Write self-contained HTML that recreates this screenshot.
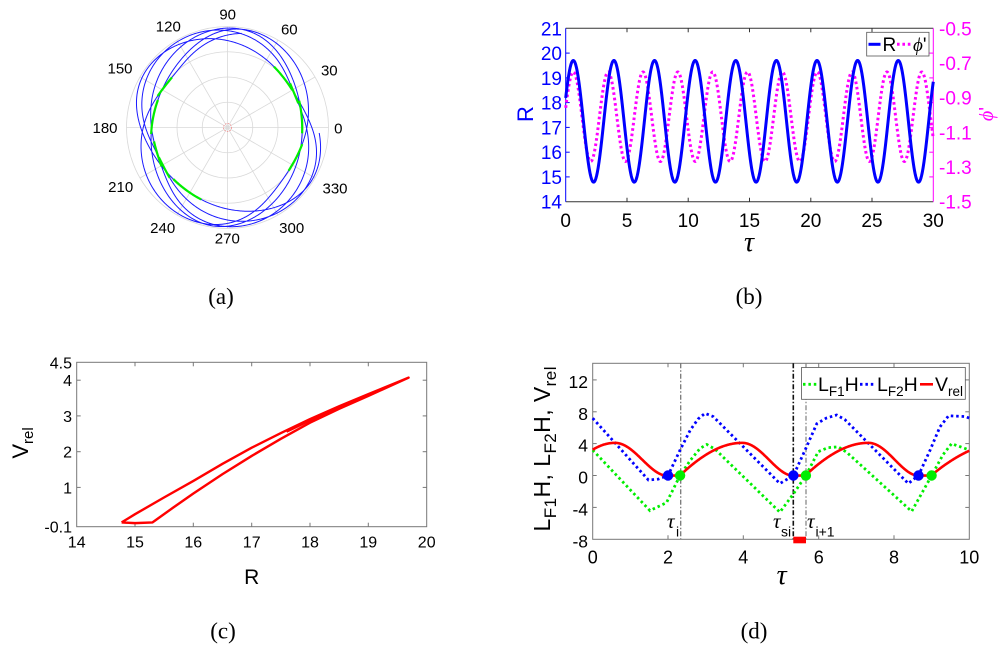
<!DOCTYPE html>
<html><head><meta charset="utf-8">
<style>
html,body{margin:0;padding:0;background:#fff;}
svg{display:block;}
text{font-family:"Liberation Sans",Arial,sans-serif;}
.serif{font-family:"Liberation Serif","Times New Roman",serif;}
</style></head>
<body>
<svg id="s" width="1000" height="650" viewBox="0 0 1000 650" xmlns="http://www.w3.org/2000/svg">
<rect width="1000" height="650" fill="#fff"/>

<!-- ============ (a) polar ============ -->
<g stroke="#d9d9d9" stroke-width="0.8" fill="none">
  <circle cx="227.5" cy="127.5" r="25.25"/>
  <circle cx="227.5" cy="127.5" r="50.5"/>
  <circle cx="227.5" cy="127.5" r="75.75"/>
  <circle cx="227.5" cy="127.5" r="101"/>
  <line x1="126.5" y1="127.5" x2="328.5" y2="127.5"/>
  <line x1="140.03" y1="178" x2="314.97" y2="77"/>
  <line x1="177" y1="214.97" x2="278" y2="40.03"/>
  <line x1="227.5" y1="26.5" x2="227.5" y2="228.5"/>
  <line x1="177" y1="40.03" x2="278" y2="214.97"/>
  <line x1="140.03" y1="77" x2="314.97" y2="178"/>
</g>
<circle cx="227.5" cy="127.5" r="4" fill="none" stroke="#f08a8a" stroke-width="0.8" stroke-dasharray="1.5 1.2"/>
<path id="polBlue" fill="none" stroke="#1a1aff" stroke-width="1"/>
<g id="polGreen" fill="none" stroke="#00ee00" stroke-width="2.2"></g>
<g font-size="15" fill="#000" text-anchor="middle">
  <text x="227.7" y="19.4">90</text>
  <text x="289.3" y="34.7">60</text>
  <text x="329.3" y="75.4">30</text>
  <text x="338.3" y="133.7">0</text>
  <text x="335" y="193.7">330</text>
  <text x="291.7" y="233">300</text>
  <text x="227.3" y="243.7">270</text>
  <text x="162.7" y="233">240</text>
  <text x="120.7" y="192">210</text>
  <text x="105" y="133">180</text>
  <text x="120" y="73.7">150</text>
  <text x="168.3" y="31.4">120</text>
</g>
<text class="serif" x="221" y="304" font-size="23" text-anchor="middle">(a)</text>

<!-- ============ (b) ============ -->
<g stroke-width="1" fill="none">
  <line x1="565.7" y1="28.3" x2="933.3" y2="28.3" stroke="#333"/>
  <line x1="565.7" y1="201.7" x2="933.3" y2="201.7" stroke="#333"/>
  <line x1="565.7" y1="28.3" x2="565.7" y2="201.7" stroke="#0000ff"/>
  <line x1="933.3" y1="28.3" x2="933.3" y2="201.7" stroke="#ff00ff"/>
</g>
<g stroke="#333" stroke-width="1">
  <line x1="627" y1="201.7" x2="627" y2="197.7"/><line x1="627" y1="28.3" x2="627" y2="32.3"/>
  <line x1="688.2" y1="201.7" x2="688.2" y2="197.7"/><line x1="688.2" y1="28.3" x2="688.2" y2="32.3"/>
  <line x1="749.5" y1="201.7" x2="749.5" y2="197.7"/><line x1="749.5" y1="28.3" x2="749.5" y2="32.3"/>
  <line x1="810.8" y1="201.7" x2="810.8" y2="197.7"/><line x1="810.8" y1="28.3" x2="810.8" y2="32.3"/>
  <line x1="872" y1="201.7" x2="872" y2="197.7"/><line x1="872" y1="28.3" x2="872" y2="32.3"/>
</g>
<g stroke="#0000ff" stroke-width="1">
  <line x1="565.7" y1="176.9" x2="569.7" y2="176.9"/>
  <line x1="565.7" y1="152.2" x2="569.7" y2="152.2"/>
  <line x1="565.7" y1="127.4" x2="569.7" y2="127.4"/>
  <line x1="565.7" y1="102.6" x2="569.7" y2="102.6"/>
  <line x1="565.7" y1="77.9" x2="569.7" y2="77.9"/>
  <line x1="565.7" y1="53.1" x2="569.7" y2="53.1"/>
</g>
<g stroke="#ff00ff" stroke-width="1">
  <line x1="933.3" y1="176.9" x2="929.3" y2="176.9"/>
  <line x1="933.3" y1="152.2" x2="929.3" y2="152.2"/>
  <line x1="933.3" y1="127.4" x2="929.3" y2="127.4"/>
  <line x1="933.3" y1="102.6" x2="929.3" y2="102.6"/>
  <line x1="933.3" y1="77.9" x2="929.3" y2="77.9"/>
  <line x1="933.3" y1="53.1" x2="929.3" y2="53.1"/>
</g>
<path id="bPhi" fill="none" stroke="#ff00ff" stroke-width="3" stroke-dasharray="2.6 2.8"/>
<path id="bR" fill="none" stroke="#0000ff" stroke-width="3"/>
<g font-size="19" fill="#0000ff" text-anchor="end">
  <text x="562" y="35.3">21</text>
  <text x="562" y="60.1">20</text>
  <text x="562" y="84.9">19</text>
  <text x="562" y="109.6">18</text>
  <text x="562" y="134.4">17</text>
  <text x="562" y="159.2">16</text>
  <text x="562" y="183.9">15</text>
  <text x="562" y="208.7">14</text>
</g>
<g font-size="19" fill="#ff00ff">
  <text x="939" y="35.3">-0.5</text>
  <text x="939" y="70">-0.7</text>
  <text x="939" y="104.7">-0.9</text>
  <text x="939" y="139.4">-1.1</text>
  <text x="939" y="174.1">-1.3</text>
  <text x="939" y="208.7">-1.5</text>
</g>
<g font-size="19" fill="#000" text-anchor="middle">
  <text x="565.7" y="227">0</text>
  <text x="627" y="227">5</text>
  <text x="688.2" y="227">10</text>
  <text x="749.5" y="227">15</text>
  <text x="810.8" y="227">20</text>
  <text x="872" y="227">25</text>
  <text x="933.3" y="227">30</text>
</g>
<text transform="translate(533,114) rotate(-90)" font-size="22" fill="#0000ff" text-anchor="middle">R</text>
<text transform="translate(993,114) rotate(-90)" font-size="20" fill="#ff00ff" text-anchor="middle"><tspan class="serif" font-style="italic">ϕ</tspan>'</text>
<text class="serif" x="749" y="251" font-size="28" font-style="italic" text-anchor="middle">τ</text>
<rect x="866.7" y="32.3" width="62.3" height="23.7" fill="#fff" stroke="#555" stroke-width="0.8"/>
<line x1="868.5" y1="44.3" x2="880.5" y2="44.3" stroke="#0000ff" stroke-width="3"/>
<text x="882.5" y="51" font-size="19" fill="#000">R</text>
<line x1="897" y1="44.3" x2="912" y2="44.3" stroke="#ff00ff" stroke-width="3" stroke-dasharray="2.6 2.8"/>
<text x="913" y="51" font-size="19" fill="#000"><tspan class="serif" font-style="italic">ϕ</tspan>'</text>
<text class="serif" x="749" y="304" font-size="23" text-anchor="middle">(b)</text>

<!-- ============ (c) ============ -->
<rect x="76.7" y="362.3" width="350" height="164.4" fill="none" stroke="#777" stroke-width="1"/>
<g stroke="#777" stroke-width="1">
  <line x1="135" y1="526.7" x2="135" y2="522.7"/><line x1="135" y1="362.3" x2="135" y2="366.3"/>
  <line x1="193.3" y1="526.7" x2="193.3" y2="522.7"/><line x1="193.3" y1="362.3" x2="193.3" y2="366.3"/>
  <line x1="251.7" y1="526.7" x2="251.7" y2="522.7"/><line x1="251.7" y1="362.3" x2="251.7" y2="366.3"/>
  <line x1="310" y1="526.7" x2="310" y2="522.7"/><line x1="310" y1="362.3" x2="310" y2="366.3"/>
  <line x1="368.3" y1="526.7" x2="368.3" y2="522.7"/><line x1="368.3" y1="362.3" x2="368.3" y2="366.3"/>
  <line x1="76.7" y1="380.2" x2="80.7" y2="380.2"/><line x1="426.7" y1="380.2" x2="422.7" y2="380.2"/>
  <line x1="76.7" y1="415.9" x2="80.7" y2="415.9"/><line x1="426.7" y1="415.9" x2="422.7" y2="415.9"/>
  <line x1="76.7" y1="451.7" x2="80.7" y2="451.7"/><line x1="426.7" y1="451.7" x2="422.7" y2="451.7"/>
  <line x1="76.7" y1="487.4" x2="80.7" y2="487.4"/><line x1="426.7" y1="487.4" x2="422.7" y2="487.4"/>
</g>
<path id="cLoop" fill="none" stroke="#ff0000" stroke-width="2.4" stroke-linejoin="round"/>
<path id="cLoop2" fill="none" stroke="#ff0000" stroke-width="1.6" stroke-linejoin="round"/>
<g font-size="16" fill="#000" text-anchor="end">
  <text x="72" y="368.5">4.5</text>
  <text x="72" y="386.2">4</text>
  <text x="72" y="421.9">3</text>
  <text x="72" y="457.7">2</text>
  <text x="72" y="493.4">1</text>
  <text x="72" y="532.5">-0.1</text>
</g>
<g font-size="16" fill="#000" text-anchor="middle">
  <text x="76.7" y="547.5">14</text>
  <text x="135" y="547.5">15</text>
  <text x="193.3" y="547.5">16</text>
  <text x="251.7" y="547.5">17</text>
  <text x="310" y="547.5">18</text>
  <text x="368.3" y="547.5">19</text>
  <text x="426.7" y="547.5">20</text>
</g>
<text x="251.7" y="584" font-size="21" text-anchor="middle">R</text>
<text transform="translate(28,443) rotate(-90)" font-size="22" text-anchor="middle">V<tspan font-size="15" dy="5">rel</tspan></text>
<text class="serif" x="223" y="638.5" font-size="23" text-anchor="middle">(c)</text>

<!-- ============ (d) ============ -->
<rect x="592.7" y="363.3" width="376.6" height="176" fill="none" stroke="#777" stroke-width="1"/>
<g stroke="#777" stroke-width="1">
  <line x1="668" y1="539.3" x2="668" y2="535.3"/><line x1="668" y1="363.3" x2="668" y2="367.3"/>
  <line x1="743.3" y1="539.3" x2="743.3" y2="535.3"/><line x1="743.3" y1="363.3" x2="743.3" y2="367.3"/>
  <line x1="818.7" y1="539.3" x2="818.7" y2="535.3"/><line x1="818.7" y1="363.3" x2="818.7" y2="367.3"/>
  <line x1="894" y1="539.3" x2="894" y2="535.3"/><line x1="894" y1="363.3" x2="894" y2="367.3"/>
  <line x1="592.7" y1="507.4" x2="596.7" y2="507.4"/><line x1="969.3" y1="507.4" x2="965.3" y2="507.4"/>
  <line x1="592.7" y1="475.5" x2="596.7" y2="475.5"/><line x1="969.3" y1="475.5" x2="965.3" y2="475.5"/>
  <line x1="592.7" y1="443.6" x2="596.7" y2="443.6"/><line x1="969.3" y1="443.6" x2="965.3" y2="443.6"/>
  <line x1="592.7" y1="411.8" x2="596.7" y2="411.8"/><line x1="969.3" y1="411.8" x2="965.3" y2="411.8"/>
  <line x1="592.7" y1="379.9" x2="596.7" y2="379.9"/><line x1="969.3" y1="379.9" x2="965.3" y2="379.9"/>
</g>
<g fill="none" stroke-width="1.3" stroke-dasharray="5 2 1.5 2">
  <line x1="680.7" y1="363.3" x2="680.7" y2="539.3" stroke="#777"/>
  <line x1="793.3" y1="363.3" x2="793.3" y2="539.3" stroke="#111" stroke-width="1.6"/>
  <line x1="806" y1="363.3" x2="806" y2="539.3" stroke="#888"/>
</g>
<path id="dGreen" fill="none" stroke="#00ee00" stroke-width="2.8" stroke-dasharray="2.5 2.9"/>
<path id="dBlue" fill="none" stroke="#0000ff" stroke-width="2.8" stroke-dasharray="2.5 2.9"/>
<path id="dRed" fill="none" stroke="#ff0000" stroke-width="2.6"/>
<g fill="#0000ff">
  <circle cx="668" cy="475.5" r="5.2"/>
  <circle cx="793.4" cy="475.5" r="5.2"/>
  <circle cx="918.5" cy="475.5" r="5.2"/>
</g>
<g fill="#00ee00">
  <circle cx="680.1" cy="475.5" r="5.2"/>
  <circle cx="805.9" cy="475.5" r="5.2"/>
  <circle cx="931.6" cy="475.5" r="5.2"/>
</g>
<rect x="793.3" y="536.7" width="12.7" height="6.6" fill="#ff0000"/>
<text class="serif" x="667" y="528" font-size="21" font-style="italic">τ</text>
<text x="676" y="536.5" font-size="14">i</text>
<text class="serif" x="773" y="528" font-size="21" font-style="italic">τ</text>
<text x="781" y="536.5" font-size="14">si</text>
<text class="serif" x="807" y="528" font-size="21" font-style="italic">τ</text>
<text x="815.5" y="536.5" font-size="14">i+1</text>
<g font-size="17.5" fill="#000" text-anchor="end">
  <text x="588" y="388">12</text>
  <text x="588" y="419.8">8</text>
  <text x="588" y="451.6">4</text>
  <text x="588" y="483.5">0</text>
  <text x="588" y="515.4">-4</text>
  <text x="588" y="547.3">-8</text>
</g>
<g font-size="18" fill="#000" text-anchor="middle">
  <text x="592.7" y="563.5">0</text>
  <text x="668" y="563.5">2</text>
  <text x="743.3" y="563.5">4</text>
  <text x="818.7" y="563.5">6</text>
  <text x="894" y="563.5">8</text>
  <text x="969.3" y="563.5">10</text>
</g>
<text class="serif" x="781.7" y="584" font-size="28" font-style="italic" text-anchor="middle">τ</text>
<text transform="translate(550,449) rotate(-90)" font-size="23" text-anchor="middle" textLength="165" lengthAdjust="spacing">L<tspan font-size="17" dy="6">F1</tspan><tspan dy="-6">H, L</tspan><tspan font-size="17" dy="6">F2</tspan><tspan dy="-6">H, V</tspan><tspan font-size="17" dy="6">rel</tspan></text>
<rect x="801.5" y="367.5" width="163.8" height="31.8" fill="#fff" stroke="#555" stroke-width="0.8"/>
<line x1="803" y1="384.3" x2="817" y2="384.3" stroke="#00ee00" stroke-width="2.8" stroke-dasharray="2.5 2.9"/>
<text x="818" y="391" font-size="19.5">L<tspan font-size="13.5" dy="5">F1</tspan><tspan dy="-5">H</tspan></text>
<line x1="860" y1="384.3" x2="875" y2="384.3" stroke="#0000ff" stroke-width="2.8" stroke-dasharray="2.5 2.9"/>
<text x="877" y="391" font-size="19.5">L<tspan font-size="13.5" dy="5">F2</tspan><tspan dy="-5">H</tspan></text>
<line x1="920" y1="384.3" x2="933" y2="384.3" stroke="#ff0000" stroke-width="2.6"/>
<text x="935" y="391" font-size="19.5">V<tspan font-size="13.5" dy="5">rel</tspan></text>
<text class="serif" x="754" y="638.5" font-size="23" text-anchor="middle">(d)</text>
</svg>

<script>
(function(){
function P(pts){var s='';for(var i=0;i<pts.length;i++){s+=(i?'L':'M')+pts[i][0].toFixed(2)+','+pts[i][1].toFixed(2);}return s;}
var PI=Math.PI;
var w1=2*PI/3.315, w2=2*PI/2.844;

// ---------- (a) polar ----------
var cx0=227.5, cy0=127.5, sc=5.05;
var s0=Math.sin(w2*(-0.62));
var blue=[], greens=[], cur=null;
for(var i=0;i<=3000;i++){
  var t=i*0.01;
  var R=17.245+2.455*Math.cos(w1*(t-0.62));
  var th=-0.06-1.005*t+0.1154*(Math.sin(w2*(t-0.62))-s0);
  var x=cx0+R*sc*Math.cos(th), y=cy0-R*sc*Math.sin(th);
  blue.push([x,y]);
  var ph=((t-0.62)/3.315)%1; if(ph<0) ph+=1;
  var dt=(ph-0.5)*3.315;
  if(dt>=-0.3 && dt<=0.08){ if(!cur){cur=[];greens.push(cur);} cur.push([x,y]); } else cur=null;
}
document.getElementById('polBlue').setAttribute('d',P(blue));
var g=document.getElementById('polGreen');
greens.forEach(function(seg){
  if(seg.length<2) return;
  var p=document.createElementNS('http://www.w3.org/2000/svg','path');
  p.setAttribute('d',P(seg)); g.appendChild(p);
});

// ---------- (b) ----------
function bx(t){return 565.7+t*12.253;}
function byL(r){return 201.7-(r-14)*24.771;}
function byR(p){return 201.7-(p+1.5)*173.4;}
var rp=[], pp=[];
for(var i=0;i<=1500;i++){
  var t=i*0.02;
  var R=17.245+2.455*Math.cos(w1*(t-0.62));
  rp.push([bx(t),byL(R)]);
  var ph=-1.01+0.258*Math.cos(w2*(t-0.62));
  pp.push([bx(t),byR(ph)]);
}
document.getElementById('bR').setAttribute('d',P(rp));
document.getElementById('bPhi').setAttribute('d',P(pp));

// ---------- (c) ----------
function cxf(r){return 76.7+(r-14)*58.333;}
function cyf(v){return 526.7-(v+0.1)*35.74;}
var loop=[[14.77,0.02],[15,0.25],[15.5,0.72],[16,1.18],[16.5,1.66],[17,2.11],[17.5,2.52],[18,2.91],[18.5,3.27],[19,3.61],[19.69,4.07],
          [19.35,3.82],[19,3.56],[18.5,3.2],[18,2.81],[17.5,2.36],[17,1.88],[16.5,1.37],[16,0.83],[15.65,0.43],[15.3,0.02],[15.0,0.0],[14.77,0.02]];
document.getElementById('cLoop').setAttribute('d',P(loop.map(function(q){return [cxf(q[0]),cyf(q[1])];})));
var loop2=[[17.6,2.55],[18,2.86],[18.5,3.23],[19,3.58],[19.6,4.0]];
document.getElementById('cLoop2').setAttribute('d',P(loop2.map(function(q){return [cxf(q[0]),cyf(q[1])];})));

// ---------- (d) ----------
function dx(t){return 592.7+t*37.66;}
function dy(v){return 539.3-(v+8)*7.97;}
var Pk=[-2.77,0.59,3.97,7.32,10.9], Z1=[-1.41,1.95,5.30,8.63], Z2=[-0.75,2.33,5.66,9.00];
function V(t){
  var k=0; while(k<3 && t>=Pk[k+1]) k++;
  if(t<=Z1[k]){var u=(t-Pk[k])/(Z1[k]-Pk[k]); return 4.1*Math.pow(Math.max(0,Math.cos(PI/2*u)),1.8);}
  if(t<Z2[k]) return 0;
  var u=(t-Z2[k])/(Pk[k+1]-Z2[k]); return 4.1*Math.pow(Math.max(0,Math.sin(PI/2*u)),0.9);
}
var red=[];
for(var i=0;i<=1000;i++){var t=i*0.01; red.push([dx(t),dy(V(t))]);}
document.getElementById('dRed').setAttribute('d',P(red));
var bl=[[0,7.2],[1.48,-0.56],[1.74,-0.45],[2.0,0],[2.32,3.2],[2.59,5.7],[2.8,7.1],[2.98,7.8],[3.2,7.4],[4.97,-1.0],[5.33,0],[5.64,3.2],[5.95,6.5],[6.2,7.2],[6.48,7.6],[6.7,7.0],[8.38,-1.0],[8.65,0],[8.96,3.2],[9.22,6.1],[9.45,7.5],[9.9,7.4],[10,7.2]];
var gr=[[0,3.2],[1.52,-4.4],[1.96,-3.4],[2.32,0],[2.59,1.9],[2.85,3.4],[3.03,3.9],[3.25,3.3],[4.97,-4.6],[5.33,-2.3],[5.66,0],[5.99,3.0],[6.25,3.5],[6.52,3.6],[6.75,2.9],[8.47,-4.5],[9.0,0],[9.3,2.6],[9.53,4.0],[10,3.2]];
document.getElementById('dBlue').setAttribute('d',P(bl.map(function(q){return [dx(q[0]),dy(q[1])];})));
document.getElementById('dGreen').setAttribute('d',P(gr.map(function(q){return [dx(q[0]),dy(q[1])];})));
})();
</script>
</body></html>
